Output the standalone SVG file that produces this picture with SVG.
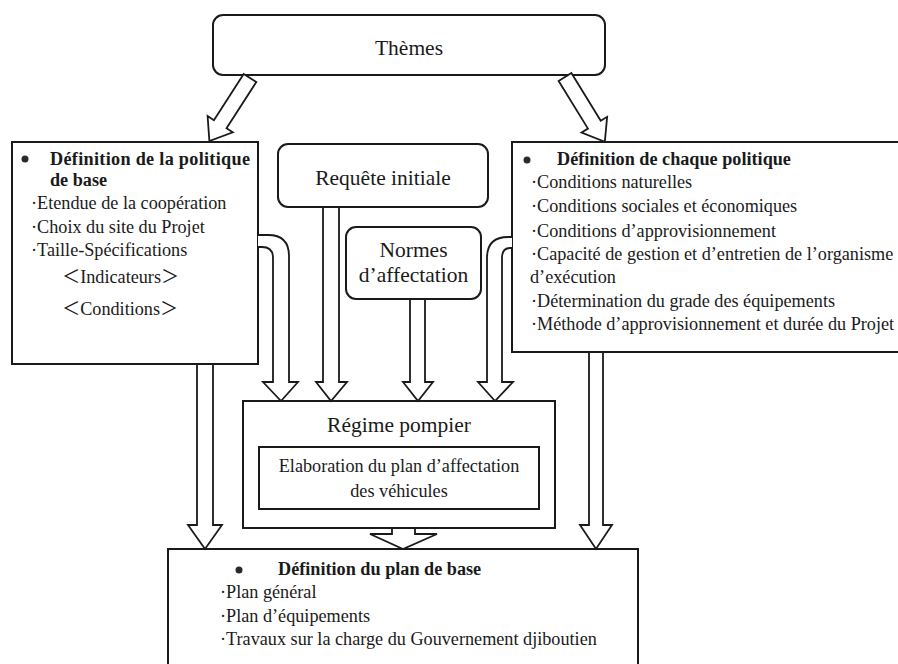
<svg xmlns="http://www.w3.org/2000/svg" width="898" height="664" viewBox="0 0 898 664">
<style>
.box{fill:#fff;stroke:#1a1a1a;stroke-width:2}
.arrow{fill:#fff;stroke:#1a1a1a;stroke-width:1.8;stroke-linejoin:miter}
.t{font-family:"Liberation Serif","Noto Sans CJK JP",serif;fill:#1a1a1a}
.lg{font-size:21.5px}
.md{font-size:18.2px}
.b{font-weight:bold}
.c{text-anchor:middle}
.dot{fill:#2a2a2a}
</style>
<rect width="898" height="664" fill="#fff"/>

<g id="themes">
<rect class="box" x="213" y="15" width="392" height="60" rx="10"/>
<text class="t lg c" x="409" y="55">Thèmes</text>
</g>

<g id="politique-base">
<rect class="box" x="12" y="142" width="246" height="222"/>
<circle class="dot" cx="25" cy="159" r="3.5"/>
<text class="t md b" x="50" y="165" textLength="200" lengthAdjust="spacing">Définition de la politique</text>
<text class="t md b" x="50" y="186">de base</text>
<text class="t md" x="31" y="209">·Etendue de la coopération</text>
<text class="t md" x="31" y="233">·Choix du site du Projet</text>
<text class="t md" x="31" y="256">·Taille-Spécifications</text>
<text class="t md" x="62" y="283">＜Indicateurs＞</text>
<text class="t md" x="62" y="315">＜Conditions＞</text>
</g>

<g id="requete">
<rect class="box" x="278" y="144" width="210" height="63" rx="10"/>
<text class="t lg c" x="383" y="185">Requête initiale</text>
</g>

<g id="normes">
<rect class="box" x="346" y="227" width="135" height="72" rx="10"/>
<text class="t lg c" x="413.5" y="257">Normes</text>
<text class="t lg c" x="413.5" y="282">d’affectation</text>
</g>

<g id="chaque-politique">
<rect class="box" x="512" y="142" width="400" height="210"/>
<circle class="dot" cx="527" cy="160" r="3.5"/>
<text class="t md b" x="557" y="165">Définition de chaque politique</text>
<text class="t md" x="531" y="188">·Conditions naturelles</text>
<text class="t md" x="531" y="212">·Conditions sociales et économiques</text>
<text class="t md" x="531" y="237">·Conditions d’approvisionnement</text>
<text class="t md" x="531" y="260">·Capacité de gestion et d’entretien de l’organisme</text>
<text class="t md" x="530" y="283">d’exécution</text>
<text class="t md" x="531" y="307">·Détermination du grade des équipements</text>
<text class="t md" x="531" y="330">·Méthode d’approvisionnement et durée du Projet</text>
</g>

<g id="regime">
<rect class="box" x="243" y="401" width="312" height="127"/>
<text class="t lg c" x="399" y="432">Régime pompier</text>
<g id="elaboration">
<rect class="box" x="259" y="447" width="280" height="62"/>
<text class="t md c" x="399" y="472">Elaboration du plan d’affectation</text>
<text class="t md c" x="399" y="497">des véhicules</text>
</g>
</g>

<g id="plan-base">
<rect class="box" x="168" y="549" width="470" height="125"/>
<circle class="dot" cx="239" cy="570" r="3.5"/>
<text class="t md b" x="278" y="575">Définition du plan de base</text>
<text class="t md" x="220" y="598">·Plan général</text>
<text class="t md" x="220" y="622">·Plan d’équipements</text>
<text class="t md" x="220" y="645">·Travaux sur la charge du Gouvernement djiboutien</text>
</g>

<g id="connectors">
<polygon class="arrow" transform="translate(250,78) rotate(32.8)" points="-7.5,0 -7.5,55 -15,55 0,75 15,55 7.5,55 7.5,0"/>
<polygon class="arrow" transform="translate(565,77) rotate(-31.6)" points="-7.5,0 -7.5,56 -15,56 0,76 15,56 7.5,56 7.5,0"/>
<path class="arrow" d="M258,235 L268,235 Q289,235 289,256 L289,382 L298,382 L281,401 L263,382 L273,382 L273,258 Q273,247 262,247 L258,247"/>
<polygon class="arrow" points="323,207 323,382 316,382 331,401 347,382 339,382 339,207"/>
<polygon class="arrow" points="410,299 410,382 403,382 418,401 433,382 425,382 425,299"/>
<path class="arrow" d="M512,237 L508,237 Q487,237 487,258 L487,382 L478,382 L495,401 L513,382 L502,382 L502,258 Q502,248 510,248 L512,248"/>
<polygon class="arrow" points="197,364 197,525 188,525 205,549 222,525 213,525 213,364"/>
<polygon class="arrow" points="589,352 589,525 580,525 596,549 612,525 603,525 603,352"/>
<polygon class="arrow" points="392,528 392,534 370,534 403,549 437,534 415,534 415,528"/>
</g>
</svg>
